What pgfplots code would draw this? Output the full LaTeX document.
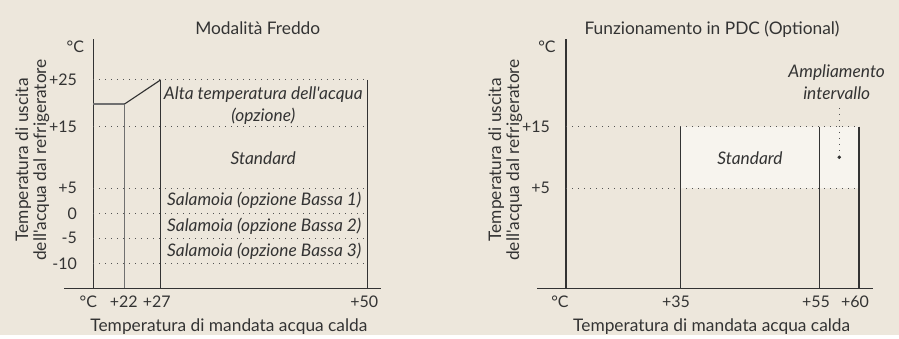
\documentclass[border=0pt]{standalone}
\usepackage{pgfplots}
\pgfplotsset{compat=1.18}
\usepackage{fontspec}
\setmainfont{Lato}[Ligatures=TeXOff]
\definecolor{bg}{HTML}{EDE7DC}
\definecolor{ink}{HTML}{333333}
\definecolor{inkgray}{HTML}{707070}
\definecolor{boxfill}{HTML}{F7F4EE}

\newcommand{\fs}{\fontsize{13}{13.5}\selectfont}
\newcommand{\ft}{\fontsize{12}{13}\selectfont}

% 1 px of the reference = 0.75pt
\pgfplotsset{
  panel/.style={
    scale only axis,
    height=187pt,
    ymin=0, ymax=249.3,
    axis x line*=bottom, axis y line*=left,
    axis line style={-, draw=ink, line width=0.85pt},
    y axis line style={draw=none},
    major tick length=0pt,
    tick label style={font=\ft, text=ink},
    yticklabel style={xshift=13pt},
    xticklabel style={yshift=-2.5pt},
    label style={font=\fs, text=ink},
    xlabel style={at={(axis description cs:0.52,0)}, anchor=base, yshift=-32.3pt},
    ylabel style={at={(axis description cs:0,0.515)}, anchor=center, yshift=24pt, align=center},
    title style={anchor=base, yshift=-3pt, font=\fs, text=ink},
    clip=false,
  },
  solid line/.style={draw=ink, line width=0.85pt},
  dotline/.style={draw=ink!85, line width=0.75pt, dash pattern=on 0.75pt off 3.75pt},
}
\tikzset{
  inchart/.style={font=\fs\itshape, text=ink},
  plain/.style={font=\ft, text=ink},
}

\begin{document}
\begin{tikzpicture}[x=0.75pt, y=0.75pt]
\fill[bg] (0,0) rectangle (899,335);

% ---------- Modalità Freddo ----------
\begin{axis}[panel,
    at={(64.3,46.7)}, width=237.5pt,
    xmin=-29, xmax=287.7,
    xtick={-5,30.5,63.5,271}, xticklabels={°C,+22,+27,+50},
    ytick={25,50,75,100,161.6,208.3},
    yticklabels={-10,-5,0,+5,+15,+25},
    title={Modalità Freddo},
    title style={at={(axis description cs:0.611,1)}},
    xlabel={Temperatura di mandata acqua calda},
    ylabel={Temperatura di uscita\\dell'acqua dal refrigeratore},
  ]
  % y axis
  \addplot[solid line] coordinates {(0,0) (0,249.3)};
  % dotted levels
  \addplot[dotline] coordinates {(0,208.3) (274,208.3)};
  \addplot[dotline] coordinates {(0,161.6) (274,161.6)};
  \addplot[dotline] coordinates {(0,100) (274,100)};
  \addplot[dotline] coordinates {(0,75) (274,75)};
  \addplot[dotline] coordinates {(0,50) (274,50)};
  \addplot[dotline] coordinates {(0,25) (274,25)};
  % limits
  \addplot[draw=inkgray, line width=0.85pt] coordinates {(0,184.3) (31.3,184.3) (31.3,0)};
  \addplot[solid line] coordinates {(31.3,184.3) (67.3,208.3)};
  \addplot[solid line] coordinates {(67.3,208.3) (67.3,0)};
  \addplot[solid line] coordinates {(274,208.3) (274,0)};
  \node[plain] at (axis cs:-18,241.3) {°C};
  \node[inchart] at (axis cs:170,193.3) {Alta temperatura dell'acqua};
  \node[inchart] at (axis cs:170,172) {(opzione)};
  \node[inchart] at (axis cs:170,130.3) {Standard};
  \node[inchart] at (axis cs:171,87.6) {Salamoia (opzione Bassa 1)};
  \node[inchart] at (axis cs:171,62.3) {Salamoia (opzione Bassa 2)};
  \node[inchart] at (axis cs:171,37.3) {Salamoia (opzione Bassa 3)};
\end{axis}

% ---------- Funzionamento in PDC ----------
\begin{axis}[panel,
    at={(537.3,46.7)}, width=251.55pt,
    xmin=-28.7, xmax=306.7,
    xtick={-6,110,250,289}, xticklabels={°C,+35,+55,+60},
    ytick={100,161.6}, yticklabels={+5,+15},
    title={Funzionamento in PDC (Optional)},
    title style={at={(axis description cs:0.521,1)}},
    xlabel={Temperatura di mandata acqua calda},
    ylabel={Temperatura di uscita\\dell'acqua dal refrigeratore},
  ]
  \addplot[fill=boxfill, draw=none] coordinates {(114.3,100) (293,100) (293,161.6) (114.3,161.6)} \closedcycle;
  \addplot[solid line] coordinates {(0,0) (0,249.3)};
  \addplot[dotline] coordinates {(0,161.6) (293,161.6)};
  \addplot[dotline] coordinates {(0,100) (293,100)};
  \addplot[solid line] coordinates {(114.3,161.6) (114.3,0)};
  \addplot[solid line] coordinates {(253.3,161.6) (253.3,0)};
  \addplot[solid line] coordinates {(293,161.6) (293,0)};
  % leader to the extended range
  \addplot[dotline] coordinates {(273.3,180.3) (273.3,131)};
  \addplot[only marks, mark=*, mark size=1.1pt, color=ink] coordinates {(273.3,131)};
  \node[plain] at (axis cs:-19,241.3) {°C};
  \node[inchart] at (axis cs:184,130.3) {Standard};
  \node[inchart] at (axis cs:270.7,215.3) {Ampliamento};
  \node[inchart] at (axis cs:270.7,195.3) {intervallo};
\end{axis}
\end{tikzpicture}
\end{document}
